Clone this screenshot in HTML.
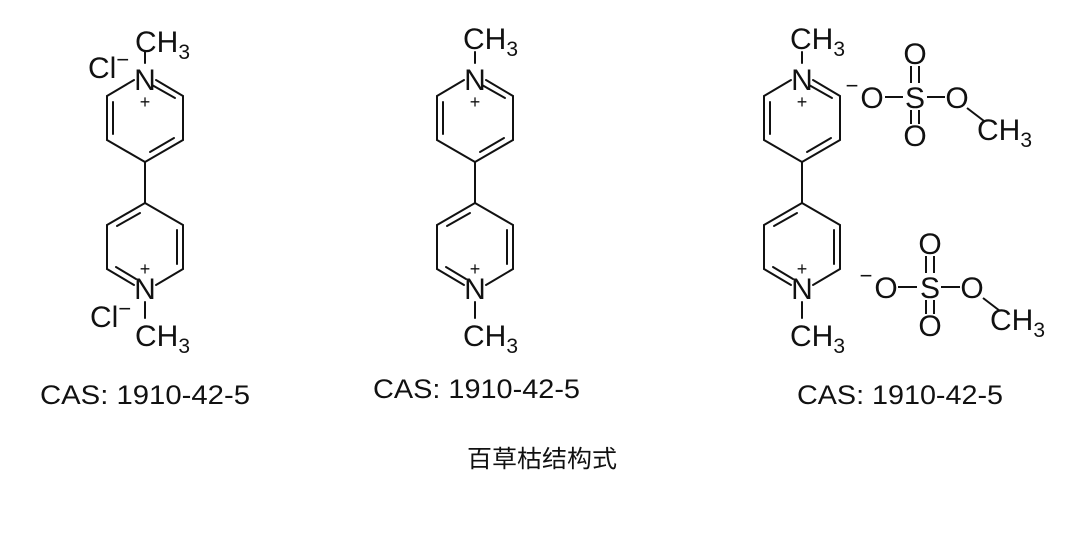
<!DOCTYPE html>
<html><head><meta charset="utf-8"><style>
html,body{margin:0;padding:0;background:#fff;}
svg{display:block;}
text{font-family:"Liberation Sans",Arial,sans-serif;fill:#111;}
</style></head><body>
<svg width="1080" height="558" viewBox="0 0 1080 558" xmlns="http://www.w3.org/2000/svg">
<defs>
<g id="core" stroke="#111" stroke-width="2" fill="none" stroke-linecap="round">
  <line x1="107" y1="96" x2="134" y2="80"/>
  <line x1="156" y1="80" x2="183" y2="96"/>
  <line x1="183" y1="96" x2="183" y2="140"/>
  <line x1="183" y1="140" x2="145" y2="162"/>
  <line x1="145" y1="162" x2="107" y2="140"/>
  <line x1="107" y1="140" x2="107" y2="96"/>
  <line x1="113" y1="102" x2="113" y2="134"/>
  <line x1="152" y1="85" x2="175" y2="98"/>
  <line x1="174" y1="138" x2="150" y2="152"/>
  <line x1="145" y1="162" x2="145" y2="203"/>
  <line x1="145" y1="203" x2="183" y2="225"/>
  <line x1="183" y1="225" x2="183" y2="269"/>
  <line x1="183" y1="269" x2="156" y2="285"/>
  <line x1="134" y1="285" x2="107" y2="269"/>
  <line x1="107" y1="269" x2="107" y2="225"/>
  <line x1="107" y1="225" x2="145" y2="203"/>
  <line x1="117" y1="226" x2="140" y2="213"/>
  <line x1="177" y1="230" x2="177" y2="264"/>
  <line x1="116" y1="267" x2="136" y2="279"/>
  <line x1="145" y1="52" x2="145" y2="63"/>
  <line x1="145" y1="302" x2="145" y2="318"/>
</g>
</defs>

<g font-size="30">
<use href="#core"/>
<text x="145" y="90" text-anchor="middle">N</text>
<text x="145" y="108" text-anchor="middle" font-size="18">+</text>
<text x="145" y="299" text-anchor="middle">N</text>
<text x="145" y="275" text-anchor="middle" font-size="18">+</text>
<text x="135" y="52">CH<tspan font-size="21" dy="7">3</tspan></text>
<text x="135" y="346">CH<tspan font-size="21" dy="7">3</tspan></text>
<text x="88" y="78">Cl<tspan font-size="22" dy="-11">−</tspan></text>
<text x="90" y="327">Cl<tspan font-size="22" dy="-11">−</tspan></text>

<use href="#core" transform="translate(330,0)"/>
<text x="475" y="90" text-anchor="middle">N</text>
<text x="475" y="108" text-anchor="middle" font-size="18">+</text>
<text x="475" y="299" text-anchor="middle">N</text>
<text x="475" y="275" text-anchor="middle" font-size="18">+</text>
<text x="463" y="49">CH<tspan font-size="21" dy="7">3</tspan></text>
<text x="463" y="346">CH<tspan font-size="21" dy="7">3</tspan></text>

<use href="#core" transform="translate(657,0)"/>
<text x="802" y="90" text-anchor="middle">N</text>
<text x="802" y="108" text-anchor="middle" font-size="18">+</text>
<text x="802" y="299" text-anchor="middle">N</text>
<text x="802" y="275" text-anchor="middle" font-size="18">+</text>
<text x="790" y="49">CH<tspan font-size="21" dy="7">3</tspan></text>
<text x="790" y="346">CH<tspan font-size="21" dy="7">3</tspan></text>

<g stroke="#111" stroke-width="2" fill="none">
  <line x1="885" y1="97" x2="903" y2="97"/>
  <line x1="927" y1="97" x2="945" y2="97"/>
  <line x1="911" y1="66" x2="911" y2="83"/>
  <line x1="919" y1="66" x2="919" y2="83"/>
  <line x1="911" y1="110" x2="911" y2="124"/>
  <line x1="919" y1="110" x2="919" y2="124"/>
  <line x1="967" y1="108" x2="984" y2="121"/>
</g>
<text x="852" y="93" text-anchor="middle" font-size="22">−</text>
<text x="872" y="108" text-anchor="middle">O</text>
<text x="915" y="108" text-anchor="middle">S</text>
<text x="915" y="64" text-anchor="middle">O</text>
<text x="915" y="146" text-anchor="middle">O</text>
<text x="957" y="108" text-anchor="middle">O</text>
<text x="977" y="140">CH<tspan font-size="21" dy="7">3</tspan></text>

<g stroke="#111" stroke-width="2" fill="none">
  <line x1="898" y1="287" x2="917" y2="287"/>
  <line x1="941" y1="287" x2="960" y2="287"/>
  <line x1="926" y1="256" x2="926" y2="273"/>
  <line x1="934" y1="256" x2="934" y2="273"/>
  <line x1="926" y1="300" x2="926" y2="314"/>
  <line x1="934" y1="300" x2="934" y2="314"/>
  <line x1="983" y1="298" x2="1000" y2="311"/>
</g>
<text x="866" y="283" text-anchor="middle" font-size="22">−</text>
<text x="886" y="298" text-anchor="middle">O</text>
<text x="930" y="298" text-anchor="middle">S</text>
<text x="930" y="254" text-anchor="middle">O</text>
<text x="930" y="336" text-anchor="middle">O</text>
<text x="972" y="298" text-anchor="middle">O</text>
<text x="990" y="330">CH<tspan font-size="21" dy="7">3</tspan></text>
</g>

<text x="40" y="404" font-size="27" textLength="210" lengthAdjust="spacingAndGlyphs">CAS: 1910-42-5</text>
<text x="373" y="398" font-size="27" textLength="207" lengthAdjust="spacingAndGlyphs">CAS: 1910-42-5</text>
<text x="797" y="404" font-size="27" textLength="206" lengthAdjust="spacingAndGlyphs">CAS: 1910-42-5</text>
<text x="467" y="467" font-size="24" style="font-family:'Noto Sans CJK SC','WenQuanYi Zen Hei',sans-serif" textLength="150" lengthAdjust="spacingAndGlyphs">百草枯结构式</text>
</svg>
</body></html>
